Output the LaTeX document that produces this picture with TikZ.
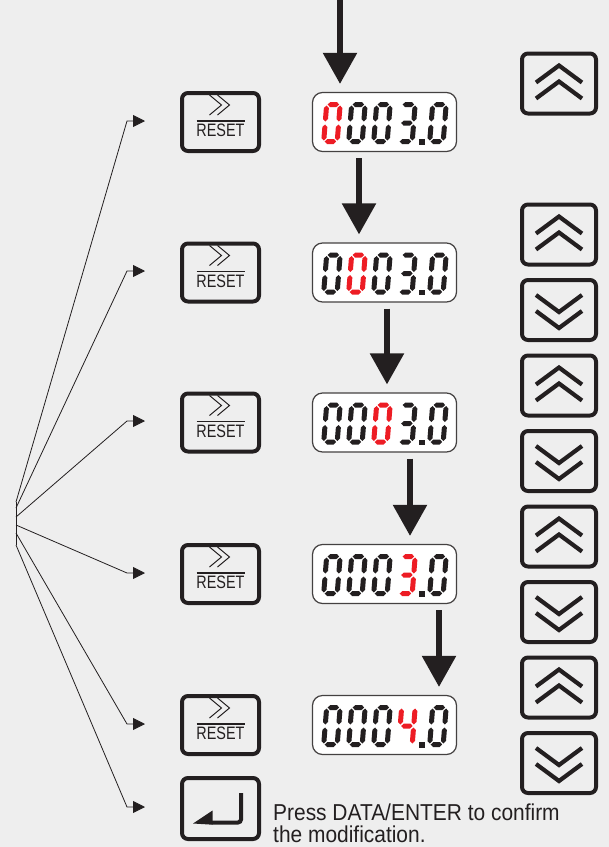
\documentclass[tikz,border=0pt]{standalone}
\usepackage{fontspec}
\usetikzlibrary{arrows.meta,calc}
\newfontfamily\pressfont[FakeStretch=0.91]{Liberation Sans}
\newfontfamily\resetfont[FakeStretch=0.8]{Liberation Sans}
\definecolor{bg}{RGB}{238,238,238}
\definecolor{ink}{RGB}{35,31,32}
\definecolor{segred}{RGB}{237,28,36}
% seven-segment pieces (local frame: x=1pt, y=1pt, y up), half thickness 2.5
\newcommand\hseg[3]{\fill (#1,#2) -- ++(2.5,2.5) -- ++({#3-5},0) -- ++(2.5,-2.5) -- ++(-2.5,-2.5) -- ++({5-#3},0) -- cycle;}
\newcommand\vseg[3]{\fill (#1,#2) -- ++(2.5,2.5) -- ++(0,{#3-5}) -- ++(-2.5,2.5) -- ++(-2.5,-2.5) -- ++(0,{5-#3}) -- cycle;}
\newcommand\sga{\hseg{3.5}{39.5}{11.5}}
\newcommand\sgg{\hseg{3.5}{21}{11.5}}
\newcommand\sgd{\hseg{3.5}{2.5}{11.5}}
\newcommand\sgf{\vseg{2.5}{22.5}{16}}
\newcommand\sge{\vseg{2.5}{3.5}{16}}
\newcommand\sgb{\vseg{16}{22.5}{16}}
\newcommand\sgc{\vseg{16}{3.5}{16}}
\newcommand\sdig[4]{\begin{scope}[shift={(#1,#2)},x=1pt,y=1pt,xslant=0.08,fill=#4]\foreach \s in {#3}{\csname sg\s\endcsname}\end{scope}}
\newcommand\disprow[3]{%
  \foreach \i/\xx in {1/321,2/346,3/371}{%
    \ifnum\i=#2\relax \sdig{\xx}{#1+22}{a,b,c,d,e,f}{segred}\else \sdig{\xx}{#1+22}{a,b,c,d,e,f}{ink}\fi}
  \ifnum#2=4\relax \sdig{396}{#1+22}{#3}{segred}\else \sdig{396}{#1+22}{#3}{ink}\fi
  \fill[ink] (419,#1+17) rectangle (424.5,#1+22.5);
  \sdig{427}{#1+22}{a,b,c,d,e,f}{ink}}
\tikzset{
  keybox/.style={draw=ink, line width=4pt, rounded corners=6pt, inner sep=0pt},
  disp/.style={draw=ink!85, fill=white, line width=1.2pt, rounded corners=10pt, inner sep=0pt, minimum width=144pt, minimum height=59pt},
  thinline/.style={ink, line width=1pt},
  chev/.style={ink, line width=4.2pt, line join=miter},
  resettext/.style={anchor=base, inner sep=0pt, text=ink, font=\resetfont\fontsize{18}{19}\selectfont},
  presstext/.style={anchor=base west, inner sep=0pt, text=ink, font=\pressfont\fontsize{23}{24}\selectfont},
  bigarrow/.style={ink, line width=5.5pt, -{Triangle[length=31pt,width=33pt]}},
  fan/.style={ink, line width=0.8pt, -{Triangle[length=12pt,width=12pt]}}
}
\newcommand\resetkey[2]{%
  \node[keybox, minimum width=77pt, minimum height=58pt] (#1) at (220.5,#2) {};
  \draw[thinline] ($(#1)+(-11,-27)$) -- ($(#1)+(1,-17)$) -- ($(#1)+(-11,-7)$);
  \draw[thinline] ($(#1)+(-3,-27)$) -- ($(#1)+(9,-17)$) -- ($(#1)+(-3,-7)$);
  \draw[ink, line width=1.2pt] ($(#1)+(-24,-1)$) -- ($(#1)+(24,-1)$);
  \node[resettext] (#1t) at ($(#1)+(0,14.5)$) {RESET};}
\newcommand\upkey[2]{%
  \node[keybox, minimum width=74pt, minimum height=60pt] (#1) at (559,#2) {};
  \draw[chev] ($(#1)+(-23,-1)$) -- ($(#1)+(0,-18)$) -- ($(#1)+(23,-1)$);
  \draw[chev] ($(#1)+(-23,15)$) -- ($(#1)+(0,-2)$) -- ($(#1)+(23,15)$);}
\newcommand\downkey[2]{%
  \node[keybox, minimum width=74pt, minimum height=60pt] (#1) at (559,#2) {};
  \draw[chev] ($(#1)+(-23,1)$) -- ($(#1)+(0,18)$) -- ($(#1)+(23,1)$);
  \draw[chev] ($(#1)+(-23,-15)$) -- ($(#1)+(0,2)$) -- ($(#1)+(23,-15)$);}
\begin{document}
\begin{tikzpicture}[x=1pt,y=-1pt]
\useasboundingbox (0,0) rectangle (609,847);
\fill[bg] (0,0) rectangle (609,847);
% displays
\node[disp] (d1) at (384.5,122) {};
\node[disp] (d2) at (384.5,272.5) {};
\node[disp] (d3) at (384.5,422.5) {};
\node[disp] (d4) at (384.5,574) {};
\node[disp] (d5) at (384.5,725) {};
\disprow{122}{1}{a,b,c,d,g}
\disprow{272.5}{2}{a,b,c,d,g}
\disprow{422.5}{3}{a,b,c,d,g}
\disprow{574}{4}{a,b,c,d,g}
\disprow{725}{4}{b,c,f,g}
% reset keys
\resetkey{r1}{122}
\resetkey{r2}{272.5}
\resetkey{r3}{422.5}
\resetkey{r4}{574}
\resetkey{r5}{725}
% enter key
\node[keybox, minimum width=77pt, minimum height=61pt] (ent) at (220.5,808.5) {};
\draw[ink, line width=4pt, rounded corners=3pt] ($(ent)+(20.5,-15.5)$) -- ($(ent)+(20.5,14)$) -- ($(ent)+(-9,14)$);
\fill[ink] ($(ent)+(-27.5,15)$) -- ($(ent)+(-8,2)$) -- ($(ent)+(-8,16.2)$) -- cycle;
\node[presstext] (p1) at (273,820) {Press DATA/ENTER to confirm};
\node[presstext] (p2) at (273,842) {the modification.};
% up / down keys
\upkey{u0}{83.5}
\upkey{u1}{234.5}
\downkey{k1}{310}
\upkey{u2}{385.5}
\downkey{k2}{461}
\upkey{u3}{536.5}
\downkey{k3}{612}
\upkey{u4}{687.5}
\downkey{k4}{763}
% big down arrows
\coordinate (top) at (340,0);
\coordinate (ax1) at (359,0);
\coordinate (ax2) at (387,0);
\coordinate (ax3) at (410,0);
\coordinate (ax4) at (439,0);
\draw[bigarrow, shorten >=8pt] (top) -- (d1.north -| top);
\draw[bigarrow, shorten <=6pt, shorten >=8pt] (d1.south -| ax1) -- (d2.north -| ax1);
\draw[bigarrow, shorten <=6pt, shorten >=8pt] (d2.south -| ax2) -- (d3.north -| ax2);
\draw[bigarrow, shorten <=6pt, shorten >=8pt] (d3.south -| ax3) -- (d4.north -| ax3);
\draw[bigarrow, shorten <=6pt, shorten >=8pt] (d4.south -| ax4) -- (d5.north -| ax4);
% fan of thin arrows
\coordinate (f1) at (16,502);
\coordinate (f2) at (16,508);
\coordinate (f3) at (16,517);
\coordinate (f4) at (16,525);
\coordinate (f5) at (16,533);
\coordinate (f6) at (16,545);
\coordinate (t1) at (145,121);
\coordinate (t2) at (145,271);
\coordinate (t3) at (145,421);
\coordinate (t4) at (145,573);
\coordinate (t5) at (145,724);
\coordinate (t6) at (145,807);
\draw[ink, line width=0.8pt] (f1) -- (f6);
\foreach \k in {1,...,6}{\draw[fan] (f\k) -- ($(t\k)+(-18,0)$) -- (t\k);}
\end{tikzpicture}
\end{document}
